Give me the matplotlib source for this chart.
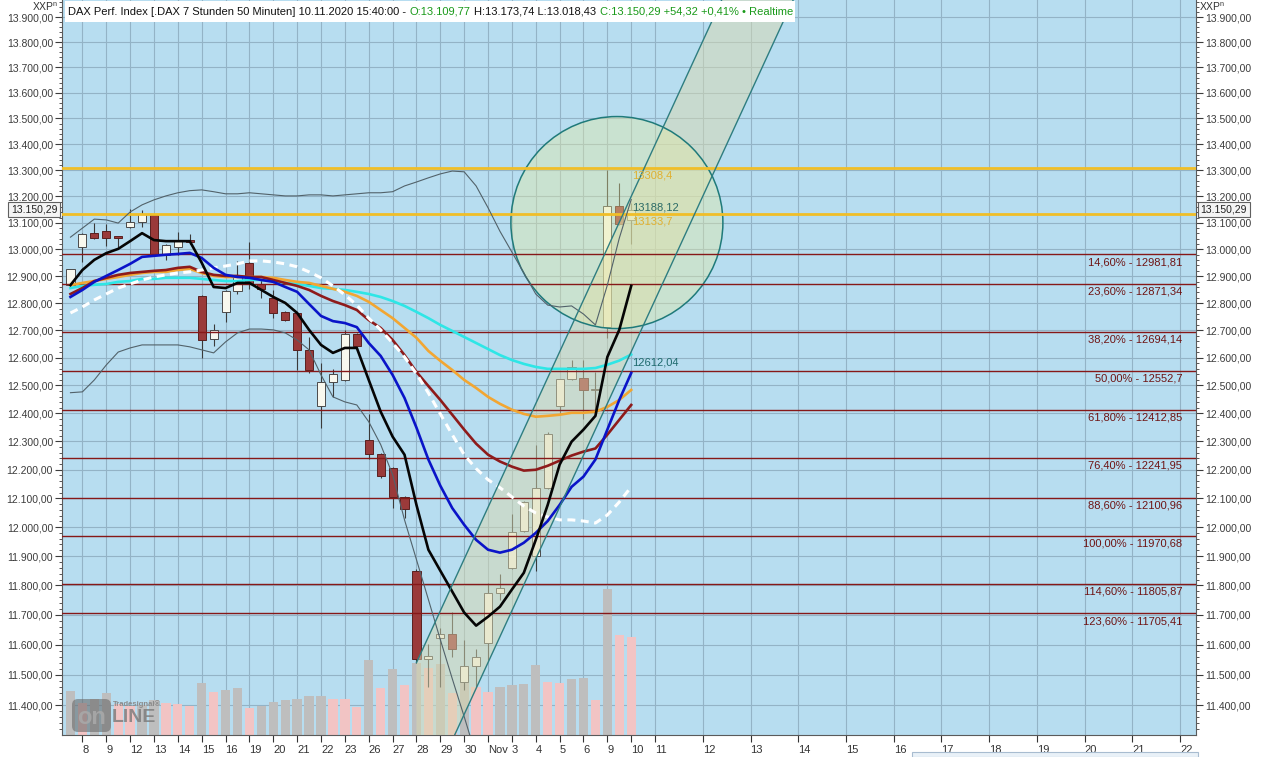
import numpy as np
import matplotlib
matplotlib.use("Agg")
import matplotlib.pyplot as plt
import matplotlib.transforms as mtransforms
from matplotlib.patches import Circle, FancyBboxPatch, Rectangle
from matplotlib.ticker import FixedLocator, NullFormatter, FuncFormatter

plt.rcParams['font.family'] = ['Liberation Sans', 'DejaVu Sans']

# Handelstage (2 Kerzen je Tag), danach Kalendertage (4 Slots je Tag)
past_days = ["8", "9", "12", "13", "14", "15", "16", "19", "20", "21", "22", "23",
             "26", "27", "28", "29", "30", "Nov", "3", "4", "5", "6", "9", "10"]
future_days = ["11", "12", "13", "14", "15", "16", "17", "18", "19", "20", "21", "22"]

opens = [12868, 13008, 13061, 13068, 13050, 13083, 13102, 13129, 12979, 13010,
         13035, 12827, 12669, 12769, 12845, 12948, 12870, 12820, 12768, 12763,
         12629, 12428, 12512, 12518, 12687, 12306, 12255, 12205, 12106, 11850,
         11552, 11622, 11635, 11476, 11529, 11606, 11775, 11858, 11986, 11899,
         12135, 12425, 12522, 12528, 12484, 12712, 13164, 13109.77]
highs = [12928, 13060, 13098, 13094, 13052, 13151, 13148, 13135, 13020, 13066,
         13057, 12830, 12723, 12848, 12958, 13029, 12886, 12849, 12770, 12765,
         12676, 12581, 12559, 12702, 12690, 12397, 12258, 12208, 12108, 11855,
         11604, 11655, 11711, 11617, 11587, 11808, 11839, 12044, 12090, 12288,
         12335, 12525, 12592, 12592, 12550, 13300, 13250, 13173.74]
lows = [12866, 12954, 13040, 13013, 13008, 13080, 13086, 12975, 12960, 12979,
        13020, 12598, 12642, 12732, 12833, 12852, 12818, 12745, 12735, 12556,
        12545, 12348, 12460, 12515, 12640, 12237, 12170, 12066, 12031, 11540,
        11460, 11460, 11559, 11451, 11461, 11550, 11752, 11855, 11984, 11850,
        12133, 12398, 12520, 12380, 12390, 12671, 13090, 13018.43]
closes = [12926, 13057, 13042, 13044, 13044, 13102, 13133, 12979, 13017, 13033,
          13027, 12665, 12702, 12845, 12898, 12872, 12852, 12765, 12738, 12629,
          12556, 12512, 12540, 12686, 12644, 12255, 12177, 12106, 12063, 11552,
          11563, 11635, 11586, 11529, 11559, 11775, 11791, 11984, 12088, 12135,
          12327, 12522, 12565, 12484, 12486, 13164, 13096, 13150.29]

volume = [44, 32, 36, 42, 31, 29, 30, 35, 32, 31, 29, 52, 43, 45, 47, 27, 29, 33, 35, 36,
          39, 39, 36, 36, 28, 75, 47, 66, 50, 72, 67, 71, 42, 52, 48, 43, 48, 50, 51, 70,
          53, 52, 56, 57, 35, 146, 100, 98]
vol_up = [1, 0, 1, 1, 0, 0, 1, 1, 0, 0, 0, 1, 0, 1, 1, 0, 1, 1, 1, 1,
          1, 1, 0, 0, 0, 1, 0, 1, 0, 1, 0, 1, 0, 1, 0, 0, 1, 1, 1, 1,
          0, 0, 1, 1, 0, 1, 0, 0]

ma_black = [12867, 12923, 12961, 12986, 13002, 13031, 13061, 13035, 13031, 13031,
            13031, 12950, 12860, 12856, 12875, 12875, 12849, 12823, 12801, 12764,
            12702, 12647, 12618, 12636, 12636, 12520, 12406, 12317, 12253, 12077,
            11922, 11850, 11779, 11708, 11664, 11694, 11728, 11786, 11843, 11956,
            12077, 12218, 12299, 12342, 12391, 12603, 12702, 12864]
ma_blue = [12823, 12849, 12879, 12901, 12923, 12946, 12972, 12976, 12980, 12983,
           12987, 12968, 12931, 12905, 12897, 12894, 12886, 12879, 12860, 12842,
           12797, 12753, 12734, 12727, 12712, 12654, 12607, 12538, 12455, 12349,
           12236, 12144, 12066, 12008, 11956, 11922, 11912, 11922, 11946, 11980,
           12021, 12077, 12140, 12176, 12236, 12342, 12448, 12545]
ma_red = [12834, 12856, 12882, 12894, 12905, 12912, 12916, 12920, 12923, 12931,
          12935, 12916, 12905, 12901, 12901, 12897, 12897, 12886, 12875, 12864,
          12849, 12827, 12808, 12793, 12775, 12738, 12709, 12665, 12610, 12549,
          12498, 12448, 12395, 12342, 12292, 12253, 12229, 12211, 12197, 12200,
          12214, 12232, 12250, 12264, 12275, 12324, 12377, 12430]
ma_orange = [12867, 12875, 12882, 12890, 12897, 12905, 12912, 12916, 12916, 12923,
             12927, 12912, 12901, 12897, 12897, 12897, 12897, 12894, 12886, 12879,
             12875, 12864, 12853, 12842, 12827, 12805, 12775, 12745, 12709, 12673,
             12625, 12589, 12556, 12520, 12491, 12459, 12434, 12413, 12398, 12388,
             12391, 12395, 12402, 12402, 12406, 12423, 12448, 12484]
ma_cyan = [12856, 12864, 12868, 12871, 12879, 12882, 12890, 12890, 12894, 12894,
           12894, 12890, 12886, 12882, 12882, 12886, 12886, 12882, 12875, 12871,
           12864, 12856, 12853, 12849, 12842, 12834, 12823, 12808, 12790, 12768,
           12745, 12720, 12698, 12676, 12654, 12632, 12610, 12592, 12578, 12567,
           12560, 12560, 12560, 12560, 12563, 12575, 12590, 12612.04]
ma_white = [12764, 12786, 12812, 12834, 12856, 12871, 12886, 12897, 12905, 12912,
            12916, 12923, 12931, 12938, 12946, 12957, 12957, 12953, 12946, 12935,
            12916, 12894, 12864, 12831, 12793, 12745, 12702, 12654, 12603, 12542,
            12473, 12398, 12324, 12253, 12204, 12165, 12137, 12105, 12073, 12049,
            12035, 12025, 12025, 12021, 12014, 12042, 12087, 12140]
band_upper = [13046, 13080, 13114, 13111, 13099, 13141, 13168, 13187, 13202, 13214,
              13222, 13225, 13218, 13210, 13210, 13214, 13210, 13206, 13202, 13202,
              13206, 13206, 13202, 13206, 13210, 13214, 13214, 13218, 13240, 13255,
              13271, 13286, 13297, 13294, 13240, 13157, 13068, 12990, 12912, 12834,
              12793, 12786, 12790, 12760, 12720, 12867, 13042, 13188.12]
# untere Linie verlässt den sichtbaren Bereich nach Kerze 34
band_lower = [12474, 12477, 12520, 12574, 12621, 12636, 12647, 12647, 12647, 12647,
              12640, 12629, 12618, 12658, 12691, 12705, 12705, 12702, 12691, 12665,
              12629, 12538, 12459, 12441, 12430, 12370, 12289, 12183, 12025, 11888,
              11752, 11617, 11487, 11362, 11234]

fib_pct = ["14,60%", "23,60%", "38,20%", "50,00%", "61,80%",
           "76,40%", "88,60%", "100,00%", "114,60%", "123,60%"]
fib_levels = [12981.81, 12871.34, 12694.14, 12552.7, 12412.85,
              12241.95, 12100.96, 11970.68, 11805.87, 11705.41]
fib_text = ["12981,81", "12871,34", "12694,14", "12552,7", "12412,85",
            "12241,95", "12100,96", "11970,68", "11805,87", "11705,41"]
gold_levels = [13308.4, 13133.7]
gold_text = ["13308,4", "13133,7"]

channel_bars = [29, 47]
channel_prices = [11540, 13200]
channel_parallel = 11035     # Parallele bei Kerze 29
circle_bar, circle_price = 45.8, 13101


def de_fmt(v, pos=None):
    s = f"{v:,.2f}"
    return s.replace(",", "X").replace(".", ",").replace("X", ".")


W, H = 1263, 757
fig = plt.figure(figsize=(W / 100, H / 100), dpi=100)
fig.patch.set_facecolor('white')
ax = fig.add_axes([62 / W, 22 / H, 1134 / W, 735 / H])
ax.set_facecolor('#B7DDF0')
ax.set_yscale('log')
ax.set_xlim(-0.71, 94.34)
ax.set_ylim(11302, 13969)
ax.set_autoscale_on(False)

bars = np.arange(len(closes))
o, h, l, c = (np.array(a, dtype=float) for a in (opens, highs, lows, closes))

# Volumen im unteren Bereich
vol_top = 735.0
vol_tr = mtransforms.blended_transform_factory(
    ax.transData, mtransforms.Affine2D().scale(1, 1 / vol_top) + ax.transAxes)
vcol = ['#BEBEBE' if u else '#F2C4C4' for u in vol_up]
ax.bar(bars, volume, width=0.78, bottom=0, color=vcol, transform=vol_tr, zorder=1)

# Kerzen
up = c >= o
ax.vlines(bars, l, h, color='#3A3A3A', lw=0.8, zorder=3)
ax.bar(bars[up], (c - o)[up], bottom=o[up], width=0.68, color='#F8F8EE',
       edgecolor='#4A4A4A', lw=0.7, zorder=3.2)
ax.bar(bars[~up], (o - c)[~up], bottom=c[~up], width=0.68, color='#9A3A3A',
       edgecolor='#5A2020', lw=0.7, zorder=3.2)

# Trendkanal
k = np.log(channel_prices[1] / channel_prices[0]) / (channel_bars[1] - channel_bars[0])
ch_x = np.array([channel_bars[0], 66.0])
ch_up = channel_prices[0] * np.exp(k * (ch_x - ch_x[0]))
ch_lo = channel_parallel * np.exp(k * (ch_x - ch_x[0]))
ax.fill_between(ch_x, ch_lo, ch_up, color='#D9D9B0', alpha=0.5, lw=0, zorder=3.5)
ax.plot(ch_x, ch_up, color='#2E7D80', lw=1.0, zorder=6)
ax.plot(ch_x, ch_lo, color='#2E7D80', lw=1.0, zorder=6)

# Kreis
ctr = fig.dpi_scale_trans + mtransforms.ScaledTranslation(circle_bar, circle_price, ax.transData)
ax.add_patch(Circle((0, 0), 1.06, transform=ctr, fc=(0.90, 0.92, 0.63, 0.4),
                    ec='#1F7A7A', lw=1.1, zorder=3.6))

# Fibonacci und Marken
for v, p, t in zip(fib_levels, fib_pct, fib_text):
    ax.axhline(v, color='#861818', lw=1.0, zorder=4)
    ax.annotate(f"{p} - {t}", xy=(0.9877, v), xycoords=('axes fraction', 'data'),
                xytext=(0, -2), textcoords='offset points', ha='right', va='top',
                fontsize=8, color='#6E1414', zorder=7)
for v in gold_levels:
    ax.axhline(v, color='#F0BE28', lw=2.0, zorder=4.2)

# Bänder und Durchschnitte
ax.plot(bars, band_upper, color='#52626A', lw=0.8, zorder=4.5)
ax.plot(bars[:len(band_lower)], band_lower, color='#52626A', lw=0.8, zorder=4.5)
ax.plot(bars, ma_cyan, color='#2EE6E6', lw=1.9, zorder=5)
ax.plot(bars, ma_orange, color='#F2A632', lw=1.9, zorder=5.1)
ax.plot(bars, ma_red, color='#8E1B1B', lw=1.9, zorder=5.2)
ax.plot(bars, ma_white, color='white', lw=2.2, dashes=(2.6, 1.8), zorder=5.3)
ax.plot(bars, ma_blue, color='#0A14C8', lw=1.9, zorder=5.4)
ax.plot(bars, ma_black, color='#050505', lw=1.9, zorder=5.5)

last = bars[-1] + 0.1
for v, t in zip(gold_levels, gold_text):
    ax.annotate(t, xy=(last, v), xytext=(0, -2), textcoords='offset points',
                va='top', ha='left', fontsize=8, color='#E0B030', zorder=7)
ax.annotate("13188,12", xy=(last, band_upper[-1]), xytext=(0, -2), textcoords='offset points',
            va='top', ha='left', fontsize=8, color='#2B6B66', zorder=7)
ax.annotate("12612,04", xy=(last, ma_cyan[-1]), xytext=(0, -2), textcoords='offset points',
            va='top', ha='left', fontsize=8, color='#1E6A6E', zorder=7)

# Achsen
ticks_x = [2 * i + 1 for i in range(len(past_days))]
ticks_x += [2 * len(past_days) + 1 + 4 * j for j in range(len(future_days))]
ax.set_xticks(ticks_x)
ax.set_xticklabels(past_days + future_days)
for lab in ax.get_xticklabels():
    lab.set_ha('left')
ax.tick_params(axis='x', length=5, width=0.8, colors='#333333', labelsize=8, pad=2)

ax.yaxis.set_major_locator(FixedLocator(np.arange(11300, 14000, 100)))
ax.yaxis.set_minor_locator(FixedLocator([v for v in range(11300, 14000, 20) if v % 100]))
ax.yaxis.set_major_formatter(FuncFormatter(de_fmt))
ax.yaxis.set_minor_formatter(NullFormatter())
ax.tick_params(axis='y', which='both', left=True, right=True, labelleft=True,
               labelright=True, colors='#3C3C3C', labelsize=7.5)
ax.tick_params(axis='y', which='major', length=5, width=0.8, pad=1.5)
ax.tick_params(axis='y', which='minor', length=2.5, width=0.6)

ax.set_axisbelow(True)
ax.grid(True, which='major', color='#93B3C6', lw=0.8)
for s in ('left', 'right', 'bottom'):
    ax.spines[s].set_color('#5A5A5A')
ax.spines['top'].set_visible(False)

# aktueller Kurs
ytr = mtransforms.blended_transform_factory(ax.transAxes, ax.transData)
box = dict(boxstyle='square,pad=0.25', fc='#F4F4F4', ec='#606060', lw=0.8)
ax.text(-0.004, closes[-1], de_fmt(closes[-1]), transform=ytr, ha='right', va='center',
        fontsize=7.5, color='#222222', bbox=box, zorder=12, clip_on=False)
ax.text(1.004, closes[-1], de_fmt(closes[-1]), transform=ytr, ha='left', va='center',
        fontsize=7.5, color='#222222', bbox=box, zorder=12, clip_on=False)

fig.text(58 / W, 1 - 7 / H, r"XXP$^\mathregular{n}$", ha='right', va='center',
         fontsize=7.5, color='#333333')
fig.text(1199 / W, 1 - 7 / H, r"XXP$^\mathregular{n}$", ha='left', va='center',
         fontsize=7.5, color='#333333')

# Kopfzeile
fig.add_artist(Rectangle((65 / W, 1 - 22 / H), 730 / W, 21 / H, transform=fig.transFigure,
                         fc='white', ec='none', zorder=10))
green = '#1A9A1A'
pieces = [("DAX Perf. Index [.DAX 7 Stunden 50 Minuten] 10.11.2020 15:40:00 -", '#111111'),
          ("O:13.109,77", green),
          ("H:13.173,74 L:13.018,43", '#111111'),
          ("C:13.150,29 +54,32 +0,41% \u2022 Realtime", green)]
rend = fig.canvas.get_renderer()
xpos = 68
for txt, col in pieces:
    t = fig.text(xpos / W, 1 - 12 / H, txt, color=col, fontsize=8, va='center',
                 ha='left', zorder=11)
    xpos = t.get_window_extent(renderer=rend).x1 + 3.5

# Logo
lax = fig.add_axes([71 / W, 1 - 733 / H, 100 / W, 37 / H])
lax.set_xlim(0, 100)
lax.set_ylim(0, 37)
lax.axis('off')
lax.add_patch(FancyBboxPatch((1, 1), 39, 33, boxstyle='round,pad=0,rounding_size=6',
                             fc='#6A6A6A', ec='none', alpha=0.6))
lax.text(20.5, 15, 'on', ha='center', va='center', fontsize=17, fontweight='bold',
         color='#A8A8A8', alpha=0.9)
lax.text(42, 29, 'Tradesignal\u00ae', ha='left', va='center', fontsize=5.5,
         fontweight='bold', color='#8A8A8A')
lax.text(41, 16, 'LINE', ha='left', va='center', fontsize=14, fontweight='bold',
         color='#7A7A7A', alpha=0.8)

fig.add_artist(Rectangle((912 / W, 0), 286 / W, 5 / H, transform=fig.transFigure,
                         fc='#E9F1F8', ec='#A8BCD0', lw=0.8, zorder=10))

fig.savefig('out.png', dpi=100)
